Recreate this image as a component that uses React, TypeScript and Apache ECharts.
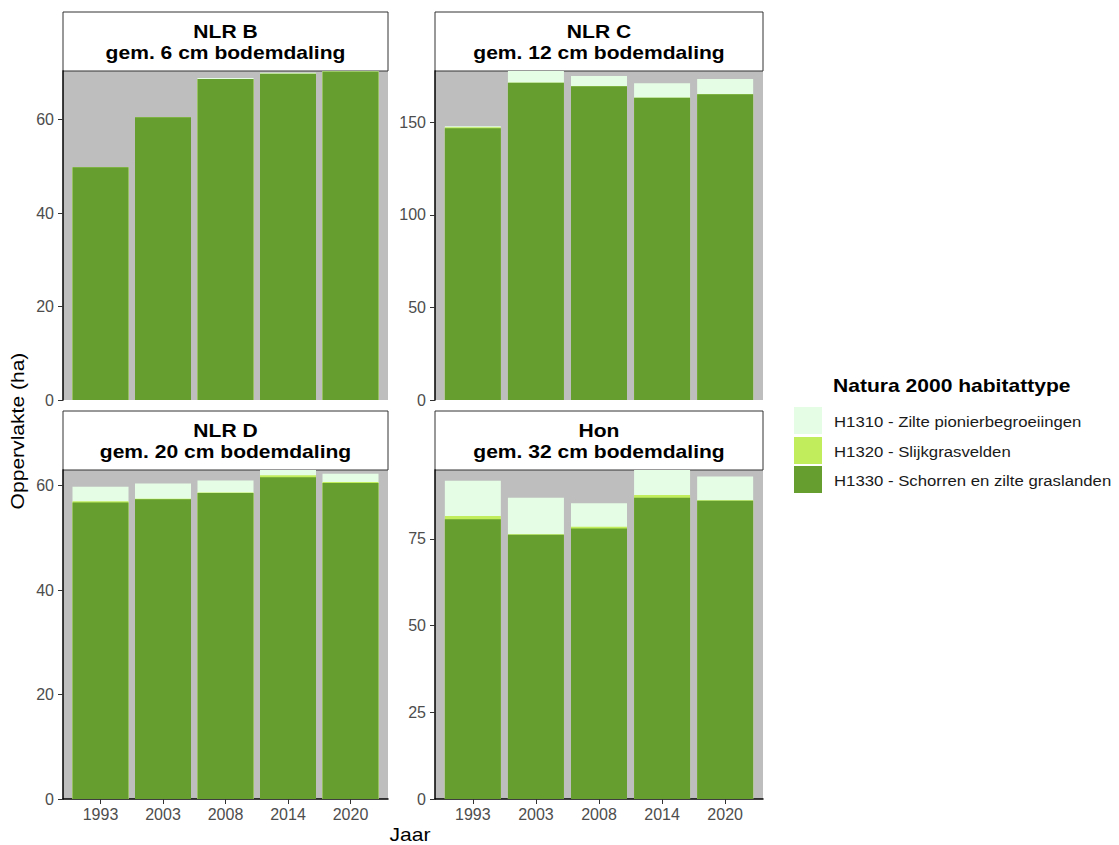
import React, { useEffect, useRef } from "react";
import * as echarts from "echarts";

const years = ["1993", "2003", "2008", "2014", "2020"];
const seriesNames = [
  "H1310 - Zilte pionierbegroeiingen",
  "H1320 - Slijkgrasvelden",
  "H1330 - Schorren en zilte graslanden",
];
const panelTitles = [
  "NLR B\ngem. 6 cm bodemdaling",
  "NLR C\ngem. 12 cm bodemdaling",
  "NLR D\ngem. 20 cm bodemdaling",
  "Hon\ngem. 32 cm bodemdaling",
];
// per panel: H1330, H1320, H1310
const nlrB_H1330 = [49.8, 60.5, 68.7, 69.8, 70.3];
const nlrB_H1320 = [0, 0, 0, 0, 0];
const nlrB_H1310 = [0, 0, 0.2, 0.2, 0.1];
const nlrC_H1330 = [146.9, 171.4, 169.6, 163.4, 165.2];
const nlrC_H1320 = [0.5, 0.1, 0, 0, 0];
const nlrC_H1310 = [0.6, 6.3, 5.5, 7.8, 8.3];
const nlrD_H1330 = [56.8, 57.4, 58.6, 61.6, 60.5];
const nlrD_H1320 = [0.2, 0.1, 0.1, 0.4, 0.2];
const nlrD_H1310 = [2.8, 2.9, 2.3, 1.0, 1.6];
const hon_H1330 = [80.7, 76.2, 78.0, 86.9, 86.0];
const hon_H1320 = [0.9, 0.2, 0.5, 0.8, 0.2];
const hon_H1310 = [10.2, 10.5, 6.8, 7.2, 6.8];
const yTicks = [
  [0, 20, 40, 60],
  [0, 50, 100, 150],
  [0, 20, 40, 60],
  [0, 25, 50, 75],
];

const panels = [
  [nlrB_H1330, nlrB_H1320, nlrB_H1310],
  [nlrC_H1330, nlrC_H1320, nlrC_H1310],
  [nlrD_H1330, nlrD_H1320, nlrD_H1310],
  [hon_H1330, hon_H1320, hon_H1310],
];

const colors: Record<string, string> = {
  [seriesNames[0]]: "#e5fde5",
  [seriesNames[1]]: "#c1ed5c",
  [seriesNames[2]]: "#669e2f",
};

const FONT = "Liberation Sans, Arial, sans-serif";
const SX = 1.17;

const grids = [
  { left: 63, top: 71, width: 325, height: 329 },
  { left: 435, top: 71, width: 328, height: 329 },
  { left: 63, top: 470, width: 325, height: 329 },
  { left: 435, top: 470, width: 328, height: 329 },
];

export default function App() {
  const ref = useRef<HTMLDivElement>(null);
  useEffect(() => {
    if (!ref.current) return;
    const chart = echarts.init(ref.current, null, { renderer: "svg" });

    const xAxis: any[] = [];
    const yAxis: any[] = [];
    const series: any[] = [];
    const graphic: any[] = [];

    panels.forEach((p, gi) => {
      const lvl1 = p[0];
      const lvl2 = p[0].map((v, i) => v + p[1][i]);
      const lvl3 = lvl2.map((v, i) => v + p[2][i]);
      const maxTotal = Math.max(...lvl3);
      const isBottom = gi >= 2;
      xAxis.push({
        type: "value",
        gridIndex: gi,
        min: 0.4,
        max: 5.6,
        splitLine: { show: false },
        axisLine: { show: isBottom, onZero: false, lineStyle: { color: "#000", width: 1.5 } },
        axisTick: { show: isBottom, length: 5, customValues: [1, 2, 3, 4, 5], lineStyle: { color: "#333" } },
        axisLabel: {
          show: isBottom,
          customValues: [1, 2, 3, 4, 5],
          formatter: (v: number) => years[Math.round(v) - 1] ?? "",
          color: "#4d4d4d",
          fontSize: 16,
          fontFamily: FONT,
          margin: 7,
        },
      });
      yAxis.push({
        type: "value",
        gridIndex: gi,
        min: 0,
        max: maxTotal,
        splitLine: { show: false },
        axisLine: { show: true, lineStyle: { color: "#000", width: 1.5 } },
        axisTick: { show: true, length: 5, customValues: yTicks[gi], lineStyle: { color: "#333" } },
        axisLabel: {
          customValues: yTicks[gi],
          color: "#4d4d4d",
          fontSize: 16,
          fontFamily: FONT,
          margin: 9,
        },
      });
      const layers = [
        { name: seriesNames[0], vals: lvl3 },
        { name: seriesNames[1], vals: lvl2 },
        { name: seriesNames[2], vals: lvl1 },
      ];
      layers.forEach((l) => {
        series.push({
          type: "bar",
          name: l.name,
          xAxisIndex: gi,
          yAxisIndex: gi,
          barWidth: 56,
          barGap: "-100%",
          itemStyle: { color: colors[l.name] },
          data: l.vals.map((v, i) => [i + 1, v]),
        });
      });
      const g = grids[gi];
      graphic.push({
        type: "rect",
        shape: { x: g.left, y: g.top - 59, width: g.width, height: 59 },
        style: { fill: "#fff", stroke: "#333", lineWidth: 1 },
      });
      graphic.push({
        type: "text",
        x: g.left + g.width / 2,
        y: g.top - 29,
        scaleX: SX,
        style: {
          text: panelTitles[gi],
          font: `bold 18px ${FONT}`,
          fill: "#000",
          align: "center",
          verticalAlign: "middle",
          lineHeight: 21,
        },
      });
    });

    graphic.push({
      type: "text",
      x: 18,
      y: 431,
      rotation: Math.PI / 2,
      scaleX: SX,
      style: {
        text: "Oppervlakte (ha)",
        font: `18px ${FONT}`,
        fill: "#000",
        align: "center",
        verticalAlign: "middle",
      },
    });
    graphic.push({
      type: "text",
      x: 410,
      y: 835,
      scaleX: SX,
      style: {
        text: "Jaar",
        font: `18px ${FONT}`,
        fill: "#000",
        align: "center",
        verticalAlign: "middle",
      },
    });
    graphic.push({
      type: "text",
      x: 833,
      y: 386,
      scaleX: SX,
      style: {
        text: "Natura 2000 habitattype",
        font: `bold 18px ${FONT}`,
        fill: "#000",
        align: "left",
        verticalAlign: "middle",
      },
    });
    const legendY = [407, 437, 466];
    seriesNames.forEach((name, i) => {
      graphic.push({
        type: "rect",
        shape: { x: 794, y: legendY[i], width: 28, height: 27 },
        style: { fill: colors[name] },
      });
      graphic.push({
        type: "text",
        x: 834,
        y: legendY[i] + 14,
        scaleX: 1.08,
        style: {
          text: name,
          font: `15.5px ${FONT}`,
          fill: "#1a1a1a",
          align: "left",
          verticalAlign: "middle",
        },
      });
    });

    chart.setOption({
      animation: false,
      backgroundColor: "#fff",
      grid: grids.map((g) => ({
        ...g,
        show: true,
        backgroundColor: "#bebebe",
        borderWidth: 0,
        containLabel: false,
      })),
      xAxis,
      yAxis,
      series,
      graphic,
    });
    return () => chart.dispose();
  }, []);
  return (
    <div
      ref={ref}
      style={{ position: "absolute", left: 0, top: 0, width: 1119, height: 845 }}
    />
  );
}
